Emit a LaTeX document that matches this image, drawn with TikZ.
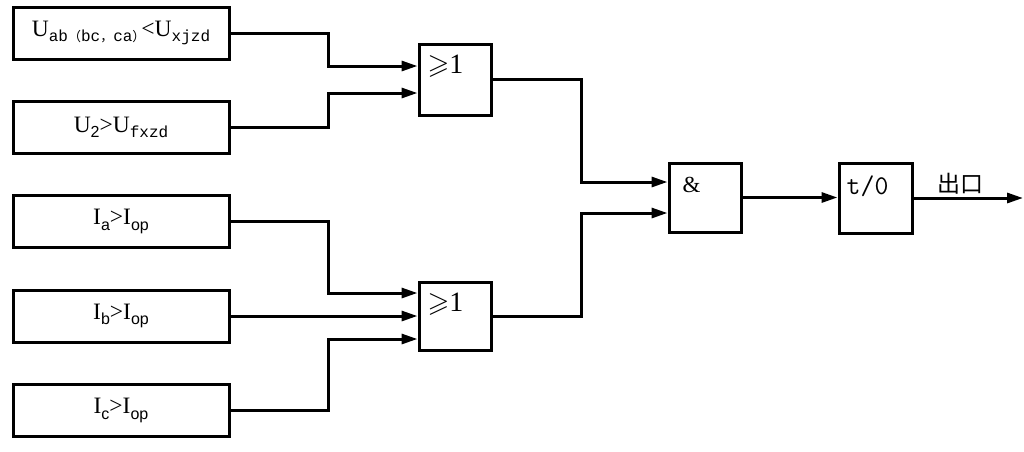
\documentclass[tikz,border=0pt]{standalone}
\usepackage{amssymb}
\usepackage{fontspec}
\setmainfont{Liberation Serif}
\setsansfont{Liberation Sans}
\newfontfamily\lmono{Liberation Mono}
\newfontfamily\cjk{Noto Sans CJK SC}
\usetikzlibrary{arrows.meta,calc}
\newcommand\subm[1]{\raisebox{-5pt}{\fontsize{16}{16}\selectfont\lmono #1}}
\newcommand\subc[1]{\raisebox{-5pt}{\fontsize{13}{13}\selectfont\cjk #1}}
\newcommand\subs[1]{\raisebox{-5.5pt}{\fontsize{16}{16}\selectfont\sffamily #1}}
\begin{document}
\begin{tikzpicture}[x=1pt,y=-1pt,
  inbox/.style={draw,line width=3pt,minimum width=216pt,minimum height=52pt,inner sep=0pt,font=\fontsize{23.5}{24}\selectfont},
  gate/.style={draw,line width=3pt,minimum width=72pt,minimum height=70pt,inner sep=0pt},
  glabel/.style={anchor=north west,inner sep=0pt,font=\fontsize{28}{30}\selectfont},
  wire/.style={line width=3pt},
  arr/.style={wire,-{Triangle[length=16pt,width=10pt]}}]
\useasboundingbox (0,0) rectangle (1024,451);
% input boxes
\node[inbox] (b1) at (121,33) {U\subm{ab}\subc{（}\subm{bc}\subc{，}\subm{ca}\subc{）}\kern-4pt<U\subm{xjzd}};
\node[inbox] (b2) at (121,127.5) {U\subs{2}>U\subm{fxzd}};
\node[inbox] (b3) at (121,221.5) {I\subs{a}>I\subs{op}};
\node[inbox] (b4) at (121,316) {I\subs{b}>I\subs{op}};
\node[inbox] (b5) at (121,410.5) {I\subs{c}>I\subs{op}};
% gates
\node[gate,minimum height=71pt] (or1) at (455,79.5) {};
\node[gate,minimum height=68pt] (or2) at (455,316) {};
\node[gate,minimum height=69pt] (and) at (705,197.5) {};
\node[gate,minimum width=73pt] (tm) at (875.5,198) {};
% gate labels
\node[glabel] (l1) at ($(or1.north west)+(10,12)$) {$\geqslant$1};
\node[glabel] (l2) at ($(or2.north west)+(10,12)$) {$\geqslant$1};
\node[glabel,font=\fontsize{23}{24}\selectfont] (l3) at ($(and.north west)+(15,15)$) {\&};
\node[glabel,font=\fontsize{27}{28}\selectfont\ttfamily] (l4) at ($(tm.north west)+(9,14)$) {t/0};
% connectors
\draw[arr] (b1.east) -| (328,66) -- ([yshift=13.5pt]or1.west);
\draw[arr] (b2.east) -| (328,93) -- ([yshift=-13.5pt]or1.west);
\draw[arr] (b3.east) -| (328,293) -- ([yshift=23pt]or2.west);
\draw[arr] (b4.east) -- (or2.west);
\draw[arr] (b5.east) -| (328,339) -- ([yshift=-23pt]or2.west);
\draw[arr] (or1.east) -| (581,182) -- ([yshift=15.5pt]and.west);
\draw[arr] (or2.east) -| (581,213) -- ([yshift=-15.5pt]and.west);
\draw[arr] (and.east) -- (tm.west |- and.east);
\coordinate (out) at (1023,198);
\draw[arr] (tm.east) -- (out);
\node[anchor=south,inner sep=0pt,font=\fontsize{23}{24}\selectfont\cjk] (ol) at (960,194) {出口};
\end{tikzpicture}
\end{document}
